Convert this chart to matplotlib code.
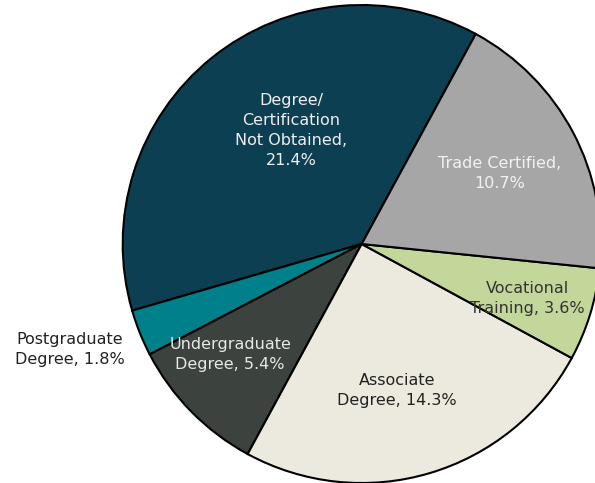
import matplotlib
matplotlib.use("Agg")
import matplotlib.pyplot as plt
import numpy as np

# datos (en orden antihorario desde el borde superior derecho)
categorias = ["Degree/\nCertification\nNot Obtained", "Postgraduate\nDegree",
              "Undergraduate\nDegree", "Associate\nDegree",
              "Vocational\nTraining", "Trade Certified"]
valores = [21.4, 1.8, 5.4, 14.3, 3.6, 10.7]
colores = ["#0d3f52", "#00808a", "#3c423d", "#ece9de", "#c4d79b", "#a6a6a6"]
textos = ["#eeeeee", "#222222", "#e8e8e8", "#222222", "#333333", "#f2f2f2"]

etiquetas = ["Degree/\nCertification\nNot Obtained,\n21.4%",
             "Postgraduate\nDegree, 1.8%",
             "Undergraduate\nDegree, 5.4%",
             "Associate\nDegree, 14.3%",
             "Vocational\nTraining, 3.6%",
             "Trade Certified,\n10.7%"]

W, H = 595, 483
cx, cy, r = 361.7, H - 244, 239

fig = plt.figure(figsize=(W / 100, H / 100), dpi=100)
ax = fig.add_axes([0, 0, 1, 1])

wedges, _ = ax.pie(valores, colors=colores, startangle=61.5, counterclock=True,
                   center=(cx, cy), radius=r, frame=True,
                   wedgeprops=dict(edgecolor="black", linewidth=1.5))
ax.set_xlim(0, W)
ax.set_ylim(0, H)
ax.set_aspect("equal")
ax.axis("off")

# posición de cada etiqueta: (desvío angular, fracción del radio)
pos = [(-7, 0.56), (-2, 1.30), (-4.4, 0.72), (-3, 0.63), (-1, 0.73),
       (-0.7, 0.65)]
for w, txt, col, (dth, fr) in zip(wedges, etiquetas, textos, pos):
    th = np.radians((w.theta1 + w.theta2) / 2 + dth)
    x = cx + fr * r * np.cos(th)
    y = cy + fr * r * np.sin(th)
    ax.text(x, y, txt, ha="center", va="center", color=col, fontsize=11.5,
            linespacing=1.4)

fig.savefig("out.png", dpi=100)
